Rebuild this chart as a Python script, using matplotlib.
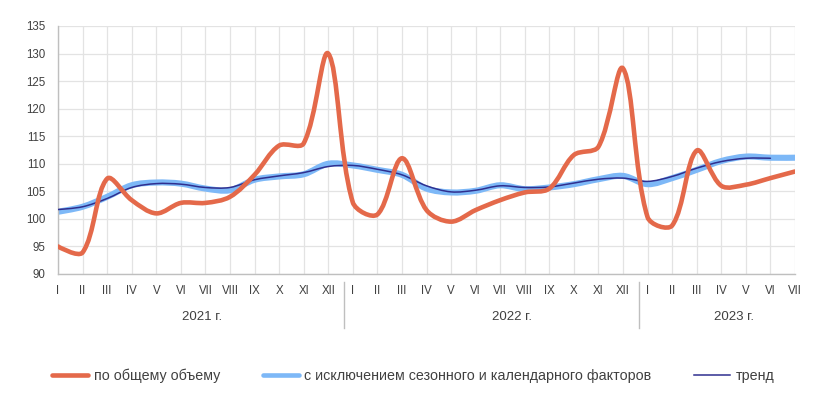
import matplotlib
matplotlib.use("Agg")
import matplotlib.pyplot as plt
from matplotlib.path import Path
from matplotlib.patches import PathPatch
from matplotlib.lines import Line2D
import matplotlib.transforms as mtransforms

# === ДАННЫЕ ===
ROMAN = ["I", "II", "III", "IV", "V", "VI", "VII", "VIII", "IX", "X", "XI", "XII"]
month_labels = ROMAN + ROMAN + ROMAN[:7]
years = ["2021 г.", "2022 г.", "2023 г."]

total = [95.0, 93.9, 107.3, 103.4, 101.0, 102.9, 102.9, 104.0, 108.0, 113.3, 113.7, 130.0,
         103.0, 100.8, 111.0, 101.6, 99.5, 101.6, 103.4, 104.8, 105.5, 111.6, 113.1, 127.3,
         100.3, 98.8, 112.4, 106.0, 106.2, 107.4, 108.6]
seas_adj = [101.3, 102.2, 104.0, 106.1, 106.6, 106.4, 105.5, 105.2, 107.1, 107.7, 108.1, 110.0,
            109.7, 108.9, 108.0, 105.5, 104.8, 105.1, 106.1, 105.4, 105.7, 106.3, 107.2, 107.8,
            106.3, 107.4, 108.9, 110.5, 111.3, 111.1, 111.1]
trend = [101.7, 102.2, 103.7, 105.7, 106.4, 106.3, 105.7, 105.7, 107.1, 107.8, 108.4, 109.5,
         109.7, 109.0, 108.0, 106.0, 104.9, 105.2, 106.0, 105.7, 105.8, 106.5, 107.2, 107.4,
         106.8, 107.7, 109.2, 110.4, 111.0, 111.0]

# === СТИЛЬ ===
COL_TOTAL = "#E4694A"
COL_SA = "#7DB8F7"
COL_TREND = "#2F2F8F"
COL_TEXT = "#404040"
COL_GRID = "#E3E3E3"
COL_AXIS = "#BFBFBF"

plt.rcParams.update({
    "font.family": ["Liberation Sans", "DejaVu Sans"],
    "font.size": 8,
    "text.color": COL_TEXT,
    "xtick.color": COL_TEXT,
    "ytick.color": COL_TEXT,
})

fig = plt.figure(figsize=(8.22, 3.97), dpi=100)
ax = fig.add_axes([58 / 822, 1 - 274 / 397, (795 - 58) / 822, 248 / 397])
ax.set_xlim(0, len(month_labels) - 1)
ax.set_ylim(90, 135)


def smooth_path(values):
    # сглаживание как в Excel: Безье, плечи пропорциональны длинам отрезков на экране
    pts = list(enumerate(values))
    scr = ax.transData.transform(pts)
    n = len(pts)

    def dist(i, j):
        return ((scr[i][0] - scr[j][0]) ** 2 + (scr[i][1] - scr[j][1]) ** 2) ** 0.5

    before, after = [], []
    for i in range(n):
        if i == 0 or i == n - 1:
            before.append(pts[i])
            after.append(pts[i])
            continue
        d0, d1 = dist(i - 1, i), dist(i, i + 1)
        dx = pts[i + 1][0] - pts[i - 1][0]
        dy = pts[i + 1][1] - pts[i - 1][1]
        fa = d0 / (d0 + d1) / 3
        fb = d1 / (d0 + d1) / 3
        before.append((pts[i][0] - fa * dx, pts[i][1] - fa * dy))
        after.append((pts[i][0] + fb * dx, pts[i][1] + fb * dy))
    verts = [pts[0]]
    codes = [Path.MOVETO]
    for i in range(n - 1):
        verts += [after[i], before[i + 1], pts[i + 1]]
        codes += [Path.CURVE4] * 3
    return Path(verts, codes)


ax.add_patch(PathPatch(smooth_path(seas_adj), fill=False, edgecolor=COL_SA,
                       lw=4.4, capstyle="round", joinstyle="round", zorder=2))
ax.add_patch(PathPatch(smooth_path(trend), fill=False, edgecolor=COL_TREND,
                       lw=1.1, capstyle="round", zorder=3))
ax.add_patch(PathPatch(smooth_path(total), fill=False, edgecolor=COL_TOTAL,
                       lw=3.3, capstyle="round", joinstyle="round", zorder=4))

ax.set_yticks(range(90, 136, 5))
ax.set_xticks(range(len(month_labels)))
ax.set_xticklabels(month_labels)
ax.tick_params(axis="both", length=0, labelsize=8.3)
ax.tick_params(axis="y", pad=9)
ax.tick_params(axis="x", pad=8)
ax.grid(True, color=COL_GRID, lw=0.9)
ax.set_axisbelow(True)
for side in ["top", "right"]:
    ax.spines[side].set_visible(False)
for side in ["left", "bottom"]:
    ax.spines[side].set_color(COL_AXIS)
    ax.spines[side].set_linewidth(1.0)

# разделители лет и подписи годов
trans = mtransforms.blended_transform_factory(ax.transData, ax.transAxes)
for xs in [11.65, 23.65]:
    ax.plot([xs, xs], [-0.032, -0.218], color=COL_AXIS, lw=1.0,
            transform=trans, clip_on=False)
for label, xl in zip(years, [5.86, 18.48, 27.5]):
    ax.text(xl, -0.173, label, transform=trans, ha="center", va="center",
            fontsize=9.5)

handles = [
    Line2D([], [], color=COL_TOTAL, lw=3.3, solid_capstyle="round"),
    Line2D([], [], color=COL_SA, lw=3.3, solid_capstyle="round"),
    Line2D([], [], color=COL_TREND, lw=1.1),
]
names = ["по общему объему",
         "с исключением сезонного и календарного факторов",
         "тренд"]
fig.legend(handles, names, loc="center", bbox_to_anchor=(0.503, 0.053), ncol=3,
           frameon=False, fontsize=10.3, handlelength=2.5, handletextpad=0.4,
           columnspacing=3.0)

fig.savefig("out.png", dpi=100)
